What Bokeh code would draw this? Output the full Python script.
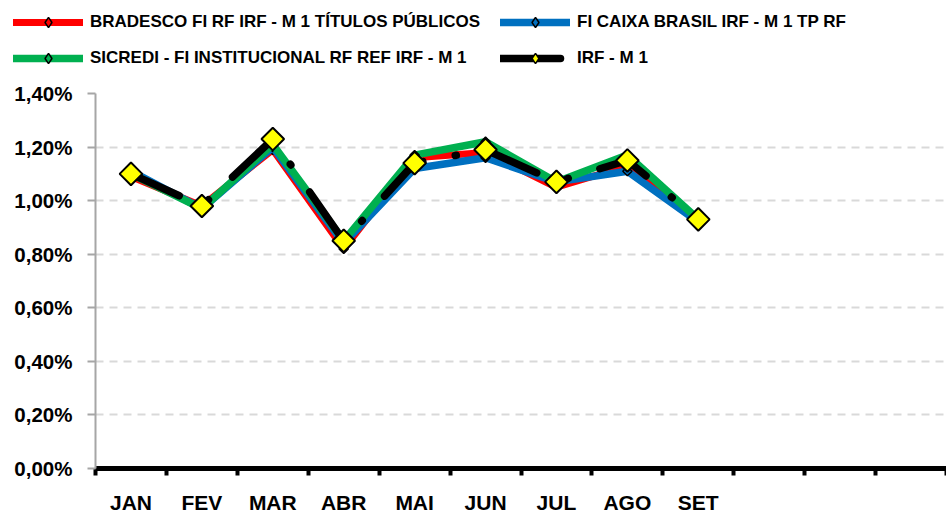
from bokeh.plotting import figure
from bokeh.layouts import column
from bokeh.models import (Range1d, FixedTicker, Legend, LegendItem, ColumnDataSource)
from bokeh.embed import file_html
from bokeh.resources import INLINE
import math

# ---- data ----
months = ["JAN", "FEV", "MAR", "ABR", "MAI", "JUN", "JUL", "AGO", "SET"]
n_slots = 12
bradesco = [1.09, 0.98, 1.19, 0.82, 1.16, 1.18, 1.05, 1.13, 0.93]
caixa = [1.11, 0.97, 1.20, 0.84, 1.12, 1.16, 1.07, 1.11, 0.92]
sicredi = [1.10, 0.97, 1.21, 0.85, 1.17, 1.22, 1.07, 1.17, 0.93]
irf = [1.10, 0.98, 1.23, 0.85, 1.14, 1.19, 1.07, 1.15, 0.93]
y_ticks = [0.0, 0.2, 0.4, 0.6, 0.8, 1.0, 1.2, 1.4]
y_labels = ["0,00%", "0,20%", "0,40%", "0,60%", "0,80%", "1,00%", "1,20%", "1,40%"]
names = ["BRADESCO FI RF IRF - M 1 TÍTULOS PÚBLICOS",
         "FI CAIXA BRASIL IRF - M 1 TP RF",
         "SICREDI - FI INSTITUCIONAL RF REF IRF - M 1",
         "IRF - M 1"]

FONT = "Liberation Sans"
xc = [i + 0.5 for i in range(len(months))]

series = [
    (bradesco, "#ff0000", 7, None),
    (caixa, "#0070c0", 7.5, None),
    (sicredi, "#00b050", 7.5, None),
    (irf, "black", 7.5, "53 33 1 33"),
]

# ---------- main chart ----------
p = figure(width=946, height=436, output_backend="svg", toolbar_location=None,
           x_range=Range1d(0, n_slots), y_range=Range1d(0, 1.4),
           min_border_left=95, min_border_right=0, min_border_top=13, min_border_bottom=48)
p.outline_line_color = None
p.background_fill_color = "white"
p.border_fill_color = "white"

p.xgrid.grid_line_color = None
p.ygrid.ticker = FixedTicker(ticks=y_ticks)
p.ygrid.grid_line_color = "#d9d9d9"
p.ygrid.grid_line_width = 2
p.ygrid.grid_line_dash = "8 6"

ya = p.yaxis[0]
ya.ticker = FixedTicker(ticks=y_ticks)
ya.major_label_overrides = {t: l for t, l in zip(y_ticks, y_labels)}
ya.axis_line_color = "#a6a6a6"
ya.axis_line_width = 2
ya.major_tick_line_color = "#a6a6a6"
ya.major_tick_line_width = 2
ya.major_tick_out = 8
ya.major_tick_in = 0
ya.minor_tick_line_color = None
ya.major_label_text_font = FONT
ya.major_label_text_font_style = "bold"
ya.major_label_text_font_size = "20.5px"
ya.major_label_text_color = "black"
ya.major_label_standoff = 15

xa = p.xaxis[0]
xa.ticker = FixedTicker(ticks=xc, minor_ticks=list(range(n_slots + 1)))
xa.major_label_overrides = {x: m for x, m in zip(xc, months)}
xa.axis_line_color = "black"
xa.axis_line_width = 5
xa.major_tick_line_color = None
xa.major_tick_out = 0
xa.major_tick_in = 0
xa.minor_tick_line_color = "black"
xa.minor_tick_line_width = 4
xa.minor_tick_out = 7
xa.minor_tick_in = 0
xa.major_label_text_font = FONT
xa.major_label_text_font_style = "bold"
xa.major_label_text_font_size = "21px"
xa.major_label_text_color = "black"
xa.major_label_standoff = 15

# ---------- legend strip ----------
lf = figure(width=946, height=80, output_backend="svg", toolbar_location=None,
            x_range=Range1d(0, 1), y_range=Range1d(0, 1),
            x_axis_location=None, y_axis_location=None,
            min_border_left=0, min_border_right=0, min_border_top=0, min_border_bottom=0)
lf.grid.visible = False
lf.outline_line_color = None
lf.background_fill_color = "white"
lf.border_fill_color = "white"

for fig in (p, lf):
    if "frame_align" in fig.properties():
        fig.frame_align = False

legend_pos = [(13, 45), (500, 45), (13, 9), (500, 9)]

for (vals, color, lw, dash), name, loc in zip(series, names, legend_pos):
    src = ColumnDataSource(dict(x=xc, y=vals))
    # off-range placeholder points: only used to draw the legend sample
    off = ColumnDataSource(dict(x=[-5.0, -4.0], y=[-5.0, -5.0]))
    line_kw = dict(line_color=color, line_width=lw, line_cap="round", line_join="round")
    leg_line_kw = dict(line_kw)
    if dash:
        line_kw["line_dash"] = dash
        leg_line_kw["line_dash"] = "60 40"
        fill = "#ffff00"
        p.line("x", "y", source=src, **line_kw)
        p.scatter("x", "y", source=src, size=16, marker="square", angle=math.pi / 4,
                  fill_color=fill, line_color="black", line_width=2)
    else:
        fill = color
        p.line("x", "y", source=src, **line_kw)
        p.scatter("x", "y", source=src, size=6.5, marker="square", angle=math.pi / 4,
                  fill_color=fill, line_color="black", line_width=1.5)
    lr = lf.line("x", "y", source=off, **leg_line_kw)
    sr = lf.scatter("x", "y", source=off, size=10, marker="diamond",
                    fill_color=fill, line_color="black", line_width=1.5)
    leg = Legend(items=[LegendItem(label=name, renderers=[lr, sr])],
                 location=loc, orientation="vertical",
                 glyph_width=70, glyph_height=26, label_standoff=7,
                 padding=0, margin=0, spacing=0,
                 border_line_color=None, background_fill_alpha=0,
                 label_text_font=FONT, label_text_font_style="bold",
                 label_text_font_size="17px", label_text_color="black")
    lf.add_layout(leg)

layout = column(lf, p, spacing=0)
open("out.html", "w").write(file_html(layout, INLINE))
